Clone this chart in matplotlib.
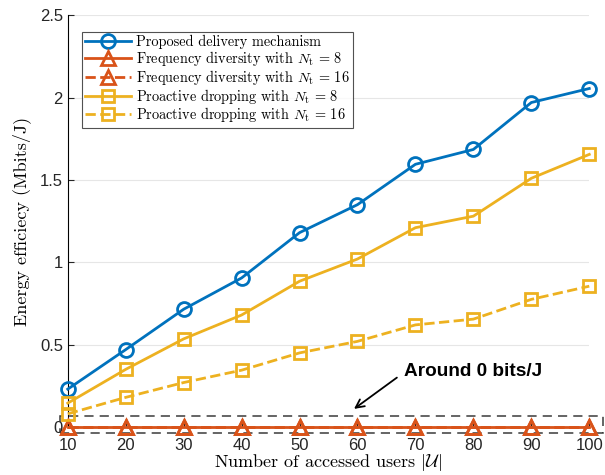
import matplotlib.pyplot as plt
from matplotlib.patches import Rectangle

plt.rcParams['mathtext.fontset'] = 'cm'

users = [10, 20, 30, 40, 50, 60, 70, 80, 90, 100]
proposed = [0.23, 0.47, 0.715, 0.905, 1.18, 1.35, 1.595, 1.685, 1.97, 2.055]
freq_div_8 = [0, 0, 0, 0, 0, 0, 0, 0, 0, 0]
freq_div_16 = [0, 0, 0, 0, 0, 0, 0, 0, 0, 0]
drop_8 = [0.145, 0.35, 0.535, 0.68, 0.885, 1.02, 1.21, 1.28, 1.51, 1.655]
drop_16 = [0.08, 0.18, 0.27, 0.345, 0.45, 0.52, 0.62, 0.655, 0.775, 0.855]

blue = '#0072BD'
red = '#D95319'
yellow = '#EDB120'
sans = 'Liberation Sans'
serif = 'cmr10'

fig = plt.figure(figsize=(6.05, 4.75), dpi=100)
ax = fig.add_axes([0.112, 0.101, 0.862, 0.867])

style = dict(lw=2.0, mfc='none', mew=2.0, clip_on=False, zorder=5)
ax.plot(users, proposed, '-o', color=blue, ms=10, **style,
        label='Proposed delivery mechanism')
ax.plot(users, freq_div_8, '-^', color=red, ms=10.5, **style,
        label=r'Frequency diversity with $N_{\rm t}$ = 8')
ax.plot(users, freq_div_16, '--^', color=red, ms=10.5, **style,
        label=r'Frequency diversity with $N_{\rm t}$ = 16')
ax.plot(users, drop_8, '-s', color=yellow, ms=8, **style,
        label=r'Proactive dropping with $N_{\rm t}$ = 8')
ax.plot(users, drop_16, '--s', color=yellow, ms=8, **style,
        label=r'Proactive dropping with $N_{\rm t}$ = 16')

ax.set_xlim(10, 100)
ax.set_ylim(0, 2.5)
ax.set_xticks(users)
ax.set_yticks([0, 0.5, 1, 1.5, 2, 2.5])
ax.set_yticklabels(['0', '0.5', '1', '1.5', '2', '2.5'])
for lab in ax.get_xticklabels() + ax.get_yticklabels():
    lab.set_fontfamily(sans)
    lab.set_fontsize(12)
ax.tick_params(direction='in', length=4, color='#262626', labelcolor='#262626')
ax.tick_params(axis='x', pad=8)
ax.spines['top'].set_visible(False)
ax.spines['right'].set_visible(False)
ax.yaxis.grid(True, color='#e6e6e6', lw=0.8)
ax.set_axisbelow(True)

ax.set_xlabel(r'Number of accessed users $|\mathcal{U}|$', fontsize=13,
              family=serif, labelpad=-1)
ax.set_ylabel('Energy efficiecy (Mbits/J)', fontsize=13, family=serif, labelpad=6)

# dashed box around the near-zero curves
box = Rectangle((8.6, -0.036), 93.8, 0.1, fill=False, ls=(0, (6, 4)), lw=1.1,
                ec='#3a3a3a', clip_on=False, zorder=4)
ax.add_patch(box)
ax.text(68, 0.34, 'Around 0 bits/J', fontsize=13.7, fontweight='bold',
        family=sans, va='center', ha='left')
ax.annotate('', xy=(59.4, 0.11), xytext=(66.8, 0.30),
            arrowprops=dict(arrowstyle='->', color='black', lw=1.3,
                            shrinkA=0, shrinkB=0, mutation_scale=15))

leg = ax.legend(loc='upper left', bbox_to_anchor=(0.027, 0.96), fancybox=False,
                edgecolor='#262626', handlelength=3.2, borderpad=0.25,
                labelspacing=-0.02, handletextpad=0.35, borderaxespad=0,
                prop={'family': serif, 'size': 10.3})
leg.get_frame().set_linewidth(0.8)

fig.savefig('out.png', dpi=100)
